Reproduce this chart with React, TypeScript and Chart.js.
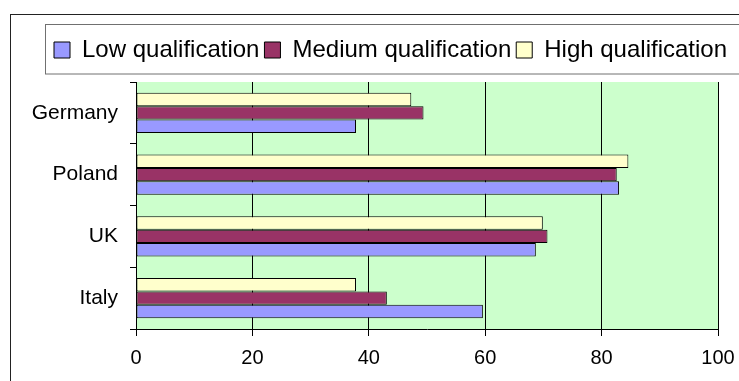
import React, { useEffect, useRef } from "react";
import { Chart, registerables } from "chart.js";

Chart.register(...registerables);

const categories = ["Germany", "Poland", "UK", "Italy"];
const seriesLabels = ["Low qualification", "Medium qualification", "High qualification"];
const lowQualification = [37.8, 83.0, 68.7, 59.6];
const mediumQualification = [49.4, 82.6, 70.7, 43.1];
const highQualification = [47.3, 84.6, 69.9, 37.8];
const xMin = 0;
const xMax = 100;
const xStep = 20;

const FONT = "Arial, 'Liberation Sans', sans-serif";

const framePlugin = {
  id: "frames",
  afterLayout(chart: any) {
    // let the category labels extend into the left padding without being clipped
    if (chart.scales.y) chart.scales.y.left = 0;
  },
  beforeDraw(chart: any) {
    const { ctx, chartArea } = chart;
    ctx.save();
    ctx.fillStyle = "#CCFFCC";
    ctx.fillRect(chartArea.left, chartArea.top, chartArea.right - chartArea.left, chartArea.bottom - chartArea.top);
    ctx.restore();
  },
  afterDraw(chart: any) {
    const { ctx } = chart;
    ctx.save();
    ctx.lineWidth = 1;
    ctx.strokeStyle = "#222222";
    ctx.strokeRect(10.5, 14.5, 1200, 1200);
    ctx.strokeStyle = "#707070";
    ctx.strokeRect(45.5, 24.5, 1200, 49.5);
    ctx.restore();
  },
};

export default function App() {
  const ref = useRef<HTMLCanvasElement | null>(null);

  useEffect(() => {
    if (!ref.current) return;
    const chart = new Chart(ref.current, {
      type: "bar",
      data: {
        labels: categories,
        datasets: [
          {
            label: seriesLabels[2],
            data: highQualification,
            backgroundColor: "#FFFFCC",
            borderColor: "#000000",
            borderWidth: 1,
            borderSkipped: false,
          },
          {
            label: seriesLabels[1],
            data: mediumQualification,
            backgroundColor: "#993366",
            borderColor: "#000000",
            borderWidth: 1,
            borderSkipped: false,
          },
          {
            label: seriesLabels[0],
            data: lowQualification,
            backgroundColor: "#9999FF",
            borderColor: "#000000",
            borderWidth: 1,
            borderSkipped: false,
          },
        ],
      },
      options: {
        indexAxis: "y",
        responsive: false,
        animation: false,
        datasets: {
          bar: { categoryPercentage: 0.65, barPercentage: 1 },
        },
        layout: { padding: { left: 49, top: 33, right: 0, bottom: 11 } },
        plugins: {
          legend: {
            display: true,
            position: "top",
            align: "start",
            reverse: true,
            labels: {
              boxWidth: 16,
              boxHeight: 16,
              padding: 5,
              color: "#000000",
              font: { family: FONT, size: 24 },
            },
          },
          title: {
            display: true,
            text: "",
            weight: 500,
            padding: 0,
            font: { size: 10, lineHeight: 1 },
          },
          tooltip: { enabled: false },
        },
        scales: {
          x: {
            type: "linear",
            min: xMin,
            max: xMax,
            ticks: {
              stepSize: xStep,
              color: "#000000",
              padding: 0,
              font: { family: FONT, size: 20 },
            },
            grid: {
              color: "#000000",
              lineWidth: 1,
              drawTicks: true,
              tickLength: 17,
              tickBorderDash: [6, 200],
              tickColor: "#000000",
            },
            border: { display: true, color: "#000000", width: 1 },
          },
          y: {
            type: "category",
            ticks: {
              color: "#000000",
              padding: 12,
              font: { family: FONT, size: 21 },
            },
            grid: {
              offset: true,
              drawOnChartArea: false,
              drawTicks: true,
              tickLength: 6,
              tickColor: "#000000",
              color: "#000000",
            },
            border: { display: true, color: "#000000", width: 1 },
            afterFit: (scale: any) => {
              scale.width = 87;
            },
          },
          yRight: {
            type: "linear",
            position: "right",
            display: true,
            ticks: { display: false },
            grid: { display: false, drawTicks: false },
            border: { display: false },
            afterFit: (scale: any) => {
              scale.width = 21;
            },
          },
        },
      },
      plugins: [framePlugin],
    } as any);
    return () => chart.destroy();
  }, []);

  return (
    <div style={{ position: "fixed", left: 0, top: 0, width: 739, height: 381, overflow: "hidden" }}>
      <canvas ref={ref} width={739} height={381} style={{ display: "block" }} />
    </div>
  );
}
